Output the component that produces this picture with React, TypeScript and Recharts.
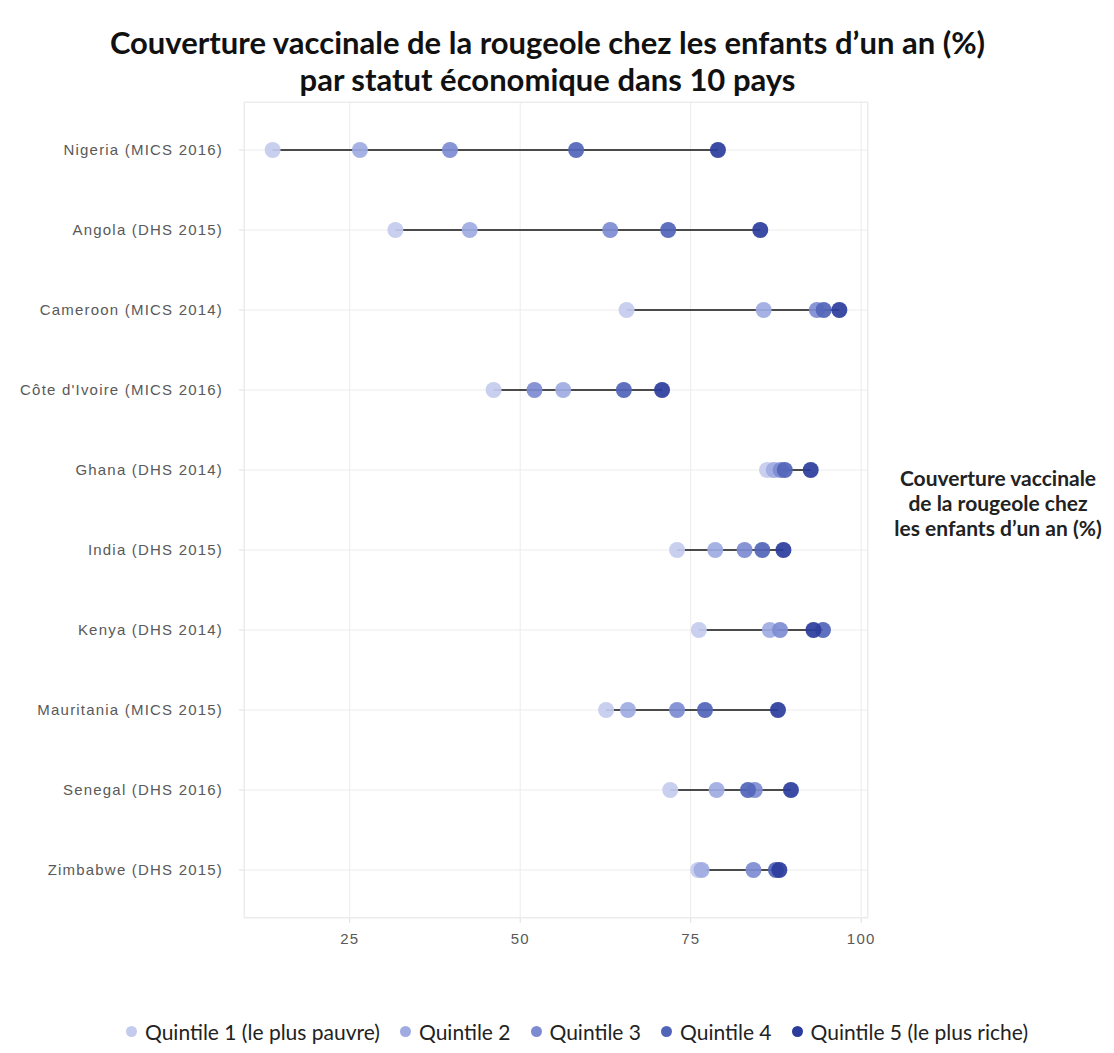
import { ComposedChart, Bar, Line, XAxis, YAxis, CartesianGrid, Legend } from 'recharts'

const countries = [
  'Nigeria (MICS 2016)',
  'Angola (DHS 2015)',
  'Cameroon (MICS 2014)',
  "Côte d'Ivoire (MICS 2016)",
  'Ghana (DHS 2014)',
  'India (DHS 2015)',
  'Kenya (DHS 2014)',
  'Mauritania (MICS 2015)',
  'Senegal (DHS 2016)',
  'Zimbabwe (DHS 2015)',
]

const quintile1 = [13.7, 31.7, 65.6, 46.1, 86.2, 73.0, 76.2, 62.6, 72.0, 76.1]
const quintile2 = [26.5, 42.6, 85.7, 56.3, 87.2, 78.6, 86.6, 65.8, 78.8, 76.6]
const quintile3 = [39.7, 63.2, 93.5, 52.1, 88.2, 82.9, 88.1, 73.0, 84.4, 84.2]
const quintile4 = [58.2, 71.7, 94.5, 65.2, 88.8, 85.5, 94.4, 77.1, 83.4, 87.5]
const quintile5 = [79.0, 85.2, 96.8, 70.8, 92.6, 88.6, 93.0, 87.8, 89.7, 88.0]

const seriesNames = [
  'Quintile 1 (le plus pauvre)',
  'Quintile 2',
  'Quintile 3',
  'Quintile 4',
  'Quintile 5 (le plus riche)',
]
const seriesColors = ['#c3cbee', '#a0abe2', '#7d8bd2', '#5165b8', '#2b3c9c']
const xTicks = [25, 50, 75, 100]

const series = [quintile1, quintile2, quintile3, quintile4, quintile5]

const data = countries.map((country, i) => {
  const vals = series.map((s) => s[i])
  return {
    country,
    range: [Math.min(...vals), Math.max(...vals)],
    q1: quintile1[i],
    q2: quintile2[i],
    q3: quintile3[i],
    q4: quintile4[i],
    q5: quintile5[i],
  }
})

const axisTick = {
  fontSize: 15,
  fill: '#595959',
  letterSpacing: 1.2,
  fontFamily: 'Liberation Sans, Arial, sans-serif',
}

function renderLegend(props: any) {
  const items = (props.payload || []).filter((p: any) => p.type !== 'none')
  return (
    <div
      style={{
        display: 'flex',
        justifyContent: 'center',
        gap: 20,
        fontFamily: 'Lato, sans-serif',
        fontSize: 21,
        color: '#222',
        paddingLeft: 40,
      }}
    >
      {items.map((p: any) => {
        const idx = seriesNames.indexOf(p.value)
        return (
          <span key={p.value} style={{ display: 'flex', alignItems: 'center' }}>
            <span
              style={{
                width: 11,
                height: 11,
                borderRadius: '50%',
                background: seriesColors[idx],
                marginRight: 8,
                display: 'inline-block',
              }}
            />
            {p.value}
          </span>
        )
      })}
    </div>
  )
}

export default function App() {
  return (
    <div style={{ position: 'absolute', left: 0, top: 0, width: 1114, height: 1053, background: '#fff' }}>
      <div
        style={{
          position: 'absolute',
          left: 0,
          top: 24,
          width: 1095,
          textAlign: 'center',
          fontFamily: 'Lato, sans-serif',
          fontWeight: 700,
          fontSize: 31,
          lineHeight: '37px',
          color: '#111',
        }}
      >
        Couverture vaccinale de la rougeole chez les enfants d’un an (%)
        <br />
        par statut économique dans 10 pays
      </div>
      <div
        style={{
          position: 'absolute',
          left: 880,
          top: 465,
          width: 236,
          textAlign: 'center',
          fontFamily: 'Lato, sans-serif',
          fontWeight: 700,
          fontSize: 21,
          lineHeight: '25px',
          color: '#222',
        }}
      >
        Couverture vaccinale
        <br />
        de la rougeole chez
        <br />
        les enfants d’un an (%)
      </div>
      <div
        style={{
          position: 'absolute',
          left: 244,
          top: 102,
          width: 624,
          height: 816,
          border: '1px solid #ececec',
          boxSizing: 'border-box',
          pointerEvents: 'none',
        }}
      />
      <ComposedChart
        width={1114}
        height={1053}
        layout="vertical"
        data={data}
        margin={{ top: 102, right: 246, bottom: 105, left: 0 }}
      >
        <CartesianGrid stroke="#ececec" />
        <XAxis
          type="number"
          domain={[9.5, 101]}
          ticks={xTicks}
          allowDataOverflow
          tick={axisTick}
          axisLine={false}
          tickLine={{ stroke: '#e0e0e0' }}
          tickSize={5}
          tickMargin={10}
        />
        <YAxis
          type="category"
          dataKey="country"
          width={244}
          padding={{ top: 8, bottom: 8 }}
          tick={axisTick}
          axisLine={false}
          tickLine={{ stroke: '#e0e0e0' }}
          tickSize={5}
          tickMargin={16}
        />
        <Bar dataKey="range" fill="#4a4a4a" barSize={2} legendType="none" isAnimationActive={false} />
        {['q1', 'q2', 'q3', 'q4', 'q5'].map((key, i) => (
          <Line
            key={key}
            dataKey={key}
            name={seriesNames[i]}
            stroke="none"
            legendType="circle"
            dot={{ r: 8, fill: seriesColors[i], stroke: 'none', fillOpacity: 0.92 }}
            activeDot={false}
            isAnimationActive={false}
          />
        ))}
        <Legend
          verticalAlign="middle"
          align="center"
          content={renderLegend}
          wrapperStyle={{ top: 1019, left: 0, width: 1114 }}
        />
      </ComposedChart>
    </div>
  )
}
